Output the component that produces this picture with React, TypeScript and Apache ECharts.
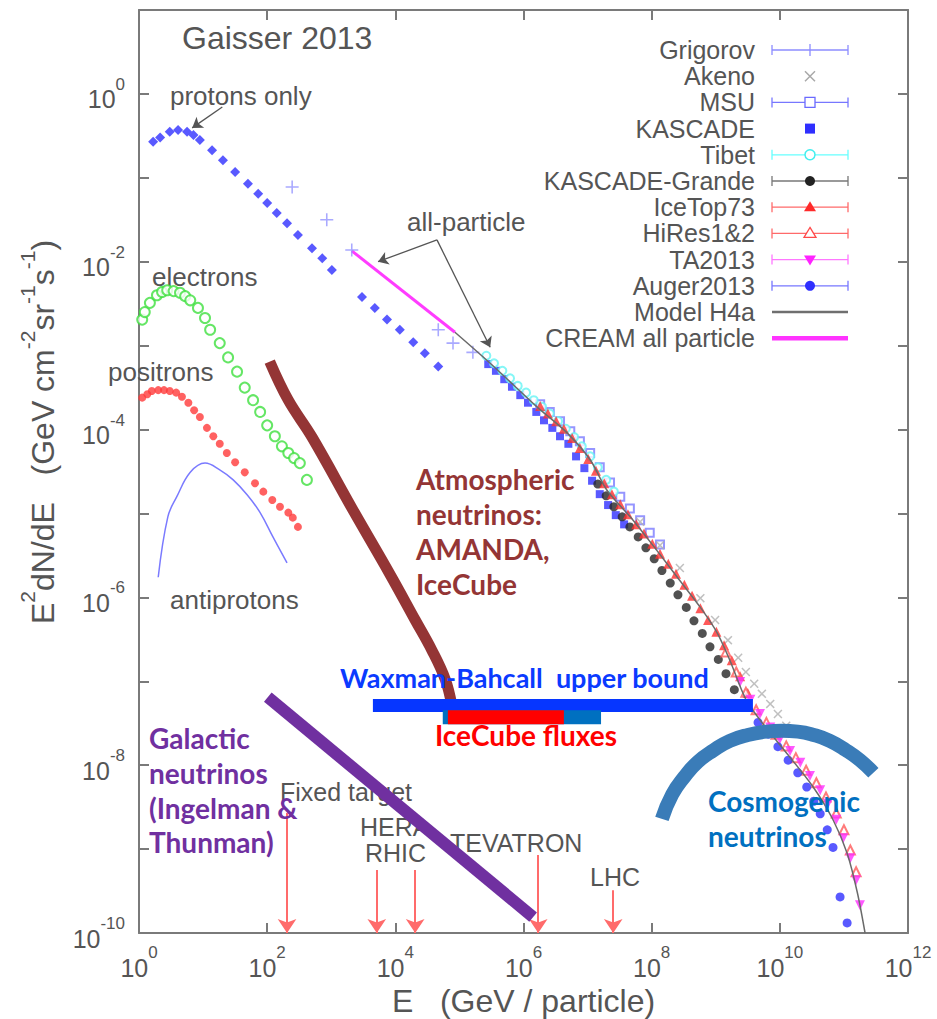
import React, { useEffect, useRef } from 'react';
import * as echarts from 'echarts';

// Every point is [log10(E / GeV), log10(E^2 dN/dE  in GeV cm^-2 sr^-1 s^-1)]
const xTickExponents = [0, 2, 4, 6, 8, 10, 12];
const yTickExponents = [0, -2, -4, -6, -8, -10];

const protonsOnly = [[0.22,-0.57],[0.33,-0.52],[0.48,-0.45],[0.61,-0.43],[0.75,-0.45],[0.85,-0.49],[0.95,-0.55],[1.14,-0.67],[1.31,-0.79],[1.50,-0.93],[1.70,-1.07],[1.86,-1.19],[2.00,-1.30],[2.15,-1.42],[2.31,-1.54],[2.48,-1.68],[2.70,-1.84],[2.86,-1.96],[3.01,-2.10],[3.48,-2.42],[3.68,-2.55],[3.87,-2.69],[4.07,-2.81],[4.28,-2.96],[4.46,-3.09],[4.67,-3.25]];
const grigorov = [[2.39,-1.11],[2.93,-1.50],[3.32,-1.86],[4.67,-2.81],[4.90,-2.97],[5.21,-3.08]];
const creamAllParticle = [[3.32,-1.87],[4.93,-2.84]];
const modelH4a = [[4.93,-2.84],[5.48,-3.21],[6.21,-3.73],[6.68,-4.04],[7.04,-4.36],[7.30,-4.72],[7.71,-5.08],[8.08,-5.44],[8.40,-5.76],[8.76,-6.12],[9.02,-6.42],[9.22,-6.75],[9.46,-7.20],[9.69,-7.46],[10.11,-7.86],[10.52,-8.26],[10.83,-8.65],[11.05,-9.05],[11.21,-9.52],[11.33,-10.0]];
const kascade = [[5.45,-3.22],[5.57,-3.30],[5.70,-3.40],[5.82,-3.49],[5.95,-3.59],[6.07,-3.68],[6.20,-3.79],[6.32,-3.89],[6.45,-3.98],[6.57,-4.08],[6.70,-4.17],[6.82,-4.32],[6.95,-4.46],[7.07,-4.61],[7.19,-4.77],[7.32,-4.90],[7.44,-5.02],[7.57,-5.13]];
const tibet = [[5.42,-3.12],[5.54,-3.21],[5.67,-3.30],[5.79,-3.39],[5.91,-3.48],[6.04,-3.56],[6.16,-3.65],[6.29,-3.73],[6.41,-3.81],[6.54,-3.90],[6.66,-3.99],[6.79,-4.09],[6.91,-4.20],[7.04,-4.32],[7.16,-4.45],[7.29,-4.60],[7.41,-4.74]];
const msu = [[6.26,-3.70],[6.41,-3.79],[6.57,-3.90],[6.73,-4.02],[6.88,-4.14],[7.04,-4.28],[7.19,-4.45],[7.35,-4.63],[7.51,-4.80],[7.66,-4.94],[7.82,-5.08],[7.97,-5.23],[8.13,-5.37]];
const iceTop73 = [[6.26,-3.72],[6.38,-3.81],[6.51,-3.90],[6.63,-3.99],[6.76,-4.10],[6.88,-4.22],[7.01,-4.35],[7.13,-4.49],[7.26,-4.64],[7.38,-4.77],[7.51,-4.89],[7.63,-5.01],[7.76,-5.13],[7.88,-5.24],[8.01,-5.36],[8.13,-5.48],[8.26,-5.60],[8.38,-5.72],[8.51,-5.85],[8.63,-5.98],[8.76,-6.13],[8.88,-6.27],[9.01,-6.41],[9.13,-6.57],[9.25,-6.75],[9.38,-6.94],[9.50,-7.14]];
const kascadeGrande = [[7.16,-4.65],[7.29,-4.79],[7.41,-4.92],[7.54,-5.04],[7.66,-5.16],[7.79,-5.28],[7.91,-5.41],[8.04,-5.54],[8.16,-5.68],[8.29,-5.83],[8.41,-5.97],[8.54,-6.12],[8.66,-6.28],[8.79,-6.43],[8.91,-6.59],[9.04,-6.74],[9.16,-6.91],[9.29,-7.10]];
const akeno = [[7.82,-5.10],[8.13,-5.38],[8.44,-5.65],[8.76,-6.01],[8.99,-6.27],[9.19,-6.51],[9.35,-6.72],[9.47,-6.89],[9.60,-7.03],[9.72,-7.15],[9.85,-7.27],[9.97,-7.39],[10.10,-7.53]];
const hiRes = [[9.16,-6.65],[9.32,-6.89],[9.47,-7.13],[9.63,-7.34],[9.79,-7.49],[9.94,-7.63],[10.10,-7.77],[10.25,-7.91],[10.41,-8.06],[10.57,-8.21],[10.72,-8.38],[10.88,-8.57],[11.00,-8.77],[11.10,-9.01],[11.19,-9.27]];
const ta2013 = [[9.38,-7.01],[9.54,-7.22],[9.69,-7.39],[9.85,-7.55],[10.00,-7.69],[10.16,-7.83],[10.32,-7.97],[10.47,-8.13],[10.63,-8.30],[10.75,-8.46],[10.88,-8.65],[10.99,-8.87],[11.10,-9.11],[11.19,-9.37],[11.25,-9.67]];
const auger2013 = [[9.66,-7.49],[9.82,-7.63],[9.97,-7.78],[10.13,-7.94],[10.28,-8.09],[10.42,-8.26],[10.53,-8.43],[10.63,-8.58],[10.74,-8.77],[10.83,-8.98],[10.94,-9.57],[11.05,-9.88]];
const electrons = [[0.05,-2.69],[0.09,-2.60],[0.17,-2.49],[0.28,-2.40],[0.36,-2.36],[0.44,-2.34],[0.54,-2.35],[0.64,-2.37],[0.72,-2.41],[0.80,-2.46],[0.92,-2.55],[1.03,-2.67],[1.11,-2.81],[1.26,-2.97],[1.39,-3.14],[1.53,-3.31],[1.65,-3.50],[1.78,-3.65],[1.89,-3.79],[2.00,-3.95],[2.12,-4.08],[2.23,-4.20],[2.33,-4.28],[2.42,-4.34],[2.51,-4.40],[2.62,-4.60]];
const positrons = [[0.05,-3.62],[0.13,-3.58],[0.20,-3.54],[0.30,-3.53],[0.39,-3.53],[0.48,-3.54],[0.58,-3.56],[0.67,-3.61],[0.77,-3.68],[0.86,-3.77],[0.95,-3.85],[1.06,-3.98],[1.16,-4.08],[1.26,-4.17],[1.37,-4.28],[1.50,-4.39],[1.65,-4.51],[1.81,-4.64],[1.94,-4.74],[2.08,-4.84],[2.20,-4.92],[2.33,-4.99],[2.40,-5.05],[2.48,-5.16]];
const antiprotons = [[0.30,-5.76],[0.45,-5.04],[0.59,-4.80],[0.80,-4.51],[1.03,-4.40],[1.26,-4.48],[1.47,-4.60],[1.69,-4.78],[1.89,-4.99],[2.09,-5.28],[2.31,-5.59]];
const atmosphericNu = [[2.04,-3.19],[2.33,-3.65],[2.70,-4.09],[3.34,-4.96],[3.92,-5.73],[4.31,-6.27],[4.57,-6.63],[4.78,-6.98],[4.88,-7.28]];
const galacticNu = [[2.01,-7.19],[6.15,-9.81]];
const waxmanBahcall = [[3.65,-7.29],[9.58,-7.29]];
const iceCubeRange = [[4.74,-7.43],[7.21,-7.43]];
const iceCubeBest = [[4.82,-7.43],[6.63,-7.43]];
const cosmogenicNu = [[8.16,-8.64],[8.32,-8.35],[8.51,-8.14],[8.72,-7.96],[8.97,-7.82],[9.22,-7.71],[9.50,-7.64],[9.79,-7.60],[10.03,-7.59],[10.28,-7.60],[10.53,-7.64],[10.78,-7.71],[11.03,-7.82],[11.25,-7.94],[11.46,-8.09]];

const acceleratorNames = ['Fixed target', 'HERA', 'RHIC', 'TEVATRON', 'LHC'];
const acceleratorEnergies = [2.31, 3.71, 4.31, 6.23, 7.40];
const acceleratorArrowTops = [-8.57, -9.25, -9.25, -9.07, -9.49];
const protonsArrow = [[1.30, -0.155], [0.83, -0.405]];
const allParticleArrows = [[[4.65, -1.74], [3.73, -2.00]], [[4.65, -1.74], [5.48, -3.02]]];

const legendNames = ['Grigorov', 'Akeno', 'MSU', 'KASCADE', 'Tibet', 'KASCADE-Grande', 'IceTop73', 'HiRes1&2', 'TA2013', 'Auger2013', 'Model H4a', 'CREAM all particle'];

// ---------- styling ----------
const FONT = '"Liberation Sans", Arial, Helvetica, sans-serif';
const BOLD = 'Lato, "Open Sans", sans-serif';
const GREY = '#555555';
const AXIS = '#7a7a7a';
const PLUS = 'path://M4.4,0H5.6V4.4H10V5.6H5.6V10H4.4V5.6H0V4.4H4.4Z';
const CROSS = 'path://M0,1.2L1.2,0L5,3.8L8.8,0L10,1.2L6.2,5L10,8.8L8.8,10L5,6.2L1.2,10L0,8.8L3.8,5Z';

const legendIcons: any[] = [
  { bar: '#8c8cff', mark: 'plus', color: '#8c8cff' },
  { bar: null, mark: 'x', color: '#a8a8a8' },
  { bar: '#7777ff', mark: 'openSquare', color: '#6a6aff' },
  { bar: null, mark: 'square', color: '#2f2fff' },
  { bar: '#66ffff', mark: 'openCircle', color: '#44eeee' },
  { bar: '#777777', mark: 'circle', color: '#222222' },
  { bar: '#ff6a6a', mark: 'triangle', color: '#ff2a2a' },
  { bar: '#ff6a6a', mark: 'openTriangle', color: '#ff4a4a' },
  { bar: '#ff77ff', mark: 'downTriangle', color: '#ff22ff' },
  { bar: '#7777ff', mark: 'circle', color: '#2f2fff' },
  { line: '#6f6f6f', width: 2.5 },
  { line: '#ff33ff', width: 4.5 },
];

function legendGraphics(): any[] {
  const els: any[] = [];
  const x1 = 772, x2 = 848, xm = 810, y0 = 50, dy = 26.2;
  legendNames.forEach((name, i) => {
    const y = y0 + i * dy;
    els.push({ type: 'text', x: 755, y, z: 20, style: { text: name, fill: GREY, font: `25px ${FONT}`, align: 'right', textAlign: 'right', verticalAlign: 'middle', textVerticalAlign: 'middle' } });
    const ic = legendIcons[i];
    if (ic.line) {
      els.push({ type: 'line', z: 20, shape: { x1, y1: y, x2, y2: y }, style: { stroke: ic.line, lineWidth: ic.width } });
      return;
    }
    if (ic.bar) {
      const st = { stroke: ic.bar, lineWidth: 1.3 };
      els.push({ type: 'line', z: 20, shape: { x1, y1: y, x2, y2: y }, style: st });
      els.push({ type: 'line', z: 20, shape: { x1, y1: y - 5, x2: x1, y2: y + 5 }, style: st });
      els.push({ type: 'line', z: 20, shape: { x1: x2, y1: y - 5, x2, y2: y + 5 }, style: st });
    }
    const c = ic.color;
    switch (ic.mark) {
      case 'plus':
        els.push({ type: 'line', z: 21, shape: { x1: xm, y1: y - 6, x2: xm, y2: y + 6 }, style: { stroke: c, lineWidth: 1.3 } });
        break;
      case 'x':
        els.push({ type: 'line', z: 21, shape: { x1: xm - 5, y1: y - 5, x2: xm + 5, y2: y + 5 }, style: { stroke: c, lineWidth: 1.5 } });
        els.push({ type: 'line', z: 21, shape: { x1: xm - 5, y1: y + 5, x2: xm + 5, y2: y - 5 }, style: { stroke: c, lineWidth: 1.5 } });
        break;
      case 'openSquare':
        els.push({ type: 'rect', z: 21, shape: { x: xm - 5, y: y - 5, width: 10, height: 10 }, style: { fill: '#fff', stroke: c, lineWidth: 1.3 } });
        break;
      case 'square':
        els.push({ type: 'rect', z: 21, shape: { x: xm - 5, y: y - 5, width: 10, height: 10 }, style: { fill: c } });
        break;
      case 'openCircle':
        els.push({ type: 'circle', z: 21, shape: { cx: xm, cy: y, r: 5 }, style: { fill: '#fff', stroke: c, lineWidth: 1.5 } });
        break;
      case 'circle':
        els.push({ type: 'circle', z: 21, shape: { cx: xm, cy: y, r: 5 }, style: { fill: c } });
        break;
      case 'triangle':
        els.push({ type: 'polygon', z: 21, shape: { points: [[xm, y - 6], [xm + 6, y + 4], [xm - 6, y + 4]] }, style: { fill: c } });
        break;
      case 'openTriangle':
        els.push({ type: 'polygon', z: 21, shape: { points: [[xm, y - 6], [xm + 6, y + 4], [xm - 6, y + 4]] }, style: { fill: '#fff', stroke: c, lineWidth: 1.3 } });
        break;
      case 'downTriangle':
        els.push({ type: 'polygon', z: 21, shape: { points: [[xm - 6, y - 4], [xm + 6, y - 4], [xm, y + 6]] }, style: { fill: c } });
        break;
    }
  });
  return els;
}

const greyTextLayout: [string, number, number][] = [
  ['protons only', 170, 96],
  ['electrons', 152, 277],
  ['positrons', 108, 372],
  ['antiprotons', 170, 600],
  ['all-particle', 407, 222],
];
const acceleratorLabelPos: [number, number][] = [[280, 792], [360, 827], [365, 853], [450, 843], [590, 877]];

function textEl(text: string, x: number, y: number, font: string, fill: string, z: number, extra: any = {}) {
  return { type: 'text', x, y, z, style: { text, fill, font, align: 'left', textAlign: 'left', verticalAlign: 'middle', textVerticalAlign: 'middle', ...extra } };
}

function annotationGraphics(): any[] {
  const els: any[] = [];
  els.push(textEl('Gaisser 2013', 182, 38, `32px ${FONT}`, GREY, 1));
  greyTextLayout.forEach(([t, x, y]) => els.push(textEl(t, x, y, `26px ${FONT}`, GREY, 1)));
  acceleratorNames.forEach((t, i) => els.push(textEl(t, acceleratorLabelPos[i][0], acceleratorLabelPos[i][1], `25px ${FONT}`, GREY, 1)));
  const bold = (s: number) => `bold ${s}px ${BOLD}`;
  els.push(textEl('Atmospheric\nneutrinos:\nAMANDA,\nIceCube', 416, 461, bold(28), '#943535', 30, { verticalAlign: 'top', textVerticalAlign: 'top', lineHeight: 35 }));
  els.push(textEl('Waxman-Bahcall  upper bound', 340, 677, bold(27), '#0a3aff', 30));
  els.push(textEl('IceCube fluxes', 435, 735, bold(28), '#ff0000', 30));
  els.push(textEl('Galactic\nneutrinos\n(Ingelman &\nThunman)', 149, 721, bold(28), '#7030a0', 30, { verticalAlign: 'top', textVerticalAlign: 'top', lineHeight: 34.7 }));
  els.push(textEl('Cosmogenic\nneutrinos', 708, 783, bold(28), '#0070c0', 30, { verticalAlign: 'top', textVerticalAlign: 'top', lineHeight: 35 }));
  // y axis title
  els.push({
    type: 'text', x: 38, y: 432, rotation: Math.PI / 2, z: 1,
    style: {
      text: '{b|E}{s|2}{b|dN/dE   (GeV cm}{s|-2}{b|sr}{s|-1}{b|s}{s|-1}{b|)}',
      align: 'center', textAlign: 'center', verticalAlign: 'middle', textVerticalAlign: 'middle',
      rich: {
        b: { fontSize: 32, lineHeight: 42, verticalAlign: 'bottom', fontFamily: FONT, fill: GREY, color: GREY },
        s: { fontSize: 21, lineHeight: 21, verticalAlign: 'top', fontFamily: FONT, fill: GREY, color: GREY },
      },
    },
  });
  return els;
}

const axisRich = {
  b: { fontSize: 25, lineHeight: 36, verticalAlign: 'bottom', fontFamily: FONT, color: GREY },
  s: { fontSize: 17, lineHeight: 17, verticalAlign: 'top', fontFamily: FONT, color: GREY },
};
const axisLine = { show: true, onZero: false, lineStyle: { color: AXIS, width: 2 } };
const axisTick = { show: true, inside: true, length: 10, lineStyle: { color: AXIS, width: 2 } };

function scatter(data: number[][], symbol: string, size: number, itemStyle: any, z = 3, extra: any = {}) {
  return { type: 'scatter', data, symbol, symbolSize: size, itemStyle, z, silent: true, ...extra };
}
function line(data: number[][], color: string, width: number, z: number, smooth: any = false) {
  return { type: 'line', data, symbol: 'none', showSymbol: false, smooth, z, silent: true, lineStyle: { color, width, cap: 'butt' } };
}

const option: any = {
  animation: false,
  backgroundColor: '#ffffff',
  grid: { left: 139, top: 10, width: 769, height: 923, containLabel: false, outerBoundsMode: 'none' },
  xAxis: [
    {
      type: 'value', min: 0, max: 12, interval: 2, position: 'bottom', axisLine, axisTick, splitLine: { show: false },
      axisLabel: { margin: 11, formatter: (v: number) => (xTickExponents.includes(Math.round(v)) ? `{b|10}{s|${Math.round(v)}}` : ''), rich: axisRich },
      name: 'E   (GeV / particle)', nameLocation: 'middle', nameGap: 49,
      nameTextStyle: { fontSize: 32, lineHeight: 32, color: GREY, fontFamily: FONT },
    },
    { type: 'value', min: 0, max: 12, interval: 2, position: 'top', axisLine, axisTick, axisLabel: { show: false }, splitLine: { show: false } },
  ],
  yAxis: [
    {
      type: 'value', min: -10, max: 1, interval: 1, position: 'left', axisLine, axisTick, splitLine: { show: false },
      axisLabel: { margin: 14, formatter: (v: number) => (yTickExponents.includes(Math.round(v)) ? `{b|10}{s|${Math.round(v)}}` : ''), rich: axisRich },
    },
    { type: 'value', min: -10, max: 1, interval: 1, position: 'right', axisLine, axisTick, axisLabel: { show: false }, splitLine: { show: false } },
  ],
  series: [
    // accelerator arrows
    {
      type: 'line', data: [], silent: true, z: 2,
      markLine: {
        silent: true, animation: false, symbol: ['none', 'arrow'], symbolSize: 14,
        label: { show: false }, lineStyle: { color: '#ff6b6b', width: 2, type: 'solid' },
        data: acceleratorEnergies.map((e, i) => [{ coord: [e, acceleratorArrowTops[i]] }, { coord: [e, -10] }]),
      },
    },
    // annotation arrows
    {
      type: 'line', data: [], silent: true, z: 2,
      markLine: {
        silent: true, animation: false, symbol: ['none', 'arrow'], symbolSize: 10,
        label: { show: false }, lineStyle: { color: '#555', width: 1.3, type: 'solid' },
        data: [protonsArrow, ...allParticleArrows].map((a) => [{ coord: a[0] }, { coord: a[1] }]),
      },
    },
    scatter(protonsOnly, 'diamond', 10, { color: '#3030ff' }),
    scatter(grigorov, PLUS, 13, { color: '#9494ff' }),
    line(creamAllParticle, '#ff3cff', 3, 3),
    scatter(kascade, 'rect', 8, { color: '#2f2fff' }),
    scatter(msu, 'emptyRect', 8, { color: '#7a7aff', borderWidth: 1.2 }),
    scatter(tibet, 'emptyCircle', 8, { color: '#66f4f4', borderWidth: 1.5 }),
    scatter(akeno, CROSS, 9, { color: '#b0b0b0' }),
    scatter(kascadeGrande, 'circle', 9, { color: '#262626' }),
    scatter(iceTop73, 'triangle', 10, { color: '#ff3030' }),
    scatter(hiRes, 'emptyTriangle', 9, { color: '#ff5a5a', borderWidth: 1.3 }),
    scatter(ta2013, 'triangle', 10, { color: '#ff30ff' }, 3, { symbolRotate: 180 }),
    scatter(auger2013, 'circle', 9, { color: '#2f2fff' }),
    line(modelH4a, '#6a6a6a', 1.5, 4, 0.3),
    scatter(electrons, 'emptyCircle', 10, { color: '#3ee03e', borderWidth: 2 }),
    scatter(positrons, 'circle', 8, { color: '#ff3a3a' }),
    line(antiprotons, '#7a7aff', 1.5, 3, 0.4),
    // neutrino annotations
    line(atmosphericNu, '#943535', 11, 6, 0.4),
    line(galacticNu, '#7030a0', 12, 6),
    line(waxmanBahcall, '#0636ff', 13, 6),
    line(iceCubeRange, '#0070c0', 14, 6),
    line(iceCubeBest, '#ff0000', 14, 7),
    line(cosmogenicNu, '#3a7cb8', 14, 6, true),
  ],
  graphic: { elements: [...legendGraphics(), ...annotationGraphics()] },
};

export default function App() {
  const ref = useRef<HTMLDivElement>(null);
  useEffect(() => {
    document.body.style.margin = '0';
    const chart = echarts.init(ref.current!, null, { renderer: 'svg' });
    chart.setOption(option);
    return () => chart.dispose();
  }, []);
  return <div ref={ref} style={{ width: 937, height: 1019 }} />;
}
